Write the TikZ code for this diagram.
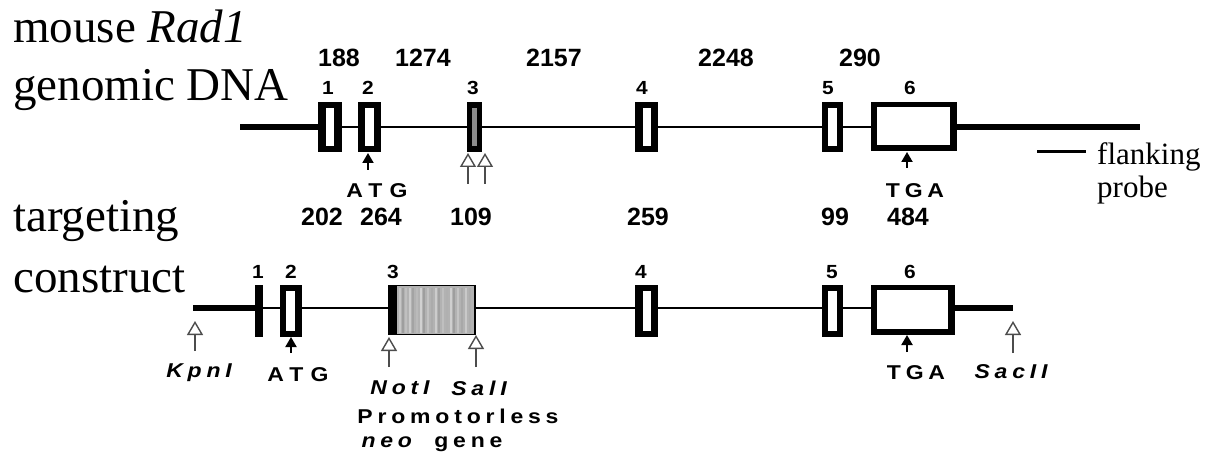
\documentclass[tikz,border=0pt]{standalone}
\usepackage{fontspec}
\setmainfont{Liberation Serif}
\setsansfont{Liberation Sans}
\newfontfamily\lsf[LetterSpace=24,FakeStretch=1.15,UprightFont={* Bold},ItalicFont={* Bold Italic}]{Liberation Sans}
\newfontfamily\lsfw[LetterSpace=36,FakeStretch=1.15,UprightFont={* Bold},ItalicFont={* Bold Italic}]{Liberation Sans}
\newfontfamily\exf[FakeStretch=1.1,UprightFont={* Bold}]{Liberation Sans}
\usetikzlibrary{arrows.meta}
\begin{document}
\begin{tikzpicture}[x=1pt,y=-1pt,
  outer/.style={fill=black, draw=none, inner sep=0pt, outer sep=0pt, anchor=north west},
  innerw/.style={fill=white, draw=none, inner sep=0pt, outer sep=0pt, anchor=north west},
  thickline/.style={line width=6pt},
  thinline/.style={line width=2.5pt},
  bignum/.style={font=\fontsize{25}{25}\selectfont\sffamily\bfseries, inner sep=0pt},
  exnum/.style={font=\fontsize{19}{19}\selectfont\exf, inner sep=0pt},
  lab/.style={font=\fontsize{20}{20}\selectfont\lsf, inner sep=0pt},
  labw/.style={font=\fontsize{20}{20}\selectfont\lsfw, inner sep=0pt},
  labi/.style={font=\fontsize{20}{20}\selectfont\lsf\itshape, inner sep=0pt},
  serifbig/.style={font=\fontsize{47}{47}\selectfont, anchor=base west, inner sep=0pt},
  serifsm/.style={font=\fontsize{31}{31}\selectfont, anchor=base west, inner sep=0pt},
  filledarrow/.style={line width=2pt, -{Triangle[length=10pt,width=11pt]}},
  openarrow/.style={line width=1.4pt, draw=black!70, -{Triangle[open,length=14pt,width=16pt,line width=1.4pt]}}
]
\useasboundingbox (0,0) rectangle (1215,457);
\fill[white] (0,0) rectangle (1215,457);

% ---------- left labels ----------
\node[serifbig] (lab1) at (13,43) {mouse \textit{Rad1}};
\node[serifbig] (lab2) at (13,101) {genomic DNA};
\node[serifbig] (lab3) at (13,231) {targeting};
\node[serifbig] (lab4) at (13,292) {construct};

% ---------- top row: genomic DNA ----------
\coordinate (tL) at (240,127);
\coordinate (tR) at (1140,127);
\coordinate (t1L) at (318,127);
\coordinate (t6R) at (957,127);
\draw[thickline] (tL) -- (t1L);
\draw[thinline] (t1L) -- (t6R);
\draw[thickline] (t6R) -- (tR);

\node[outer, minimum width=24pt, minimum height=50pt] (te1) at (318,102) {};
\node[innerw, minimum width=8pt, minimum height=38pt] (te1i) at (326,108) {};
\node[outer, minimum width=23pt, minimum height=50pt] (te2) at (358,102) {};
\node[innerw, minimum width=9pt, minimum height=38pt] (te2i) at (365,108) {};
\node[outer, minimum width=15pt, minimum height=50pt] (te3) at (467,102) {};
\node[innerw, fill=black!45, minimum width=5pt, minimum height=38pt] (te3i) at (472,108) {};
\node[outer, minimum width=23pt, minimum height=50pt] (te4) at (635,102) {};
\node[innerw, minimum width=8pt, minimum height=38pt] (te4i) at (643,108) {};
\node[outer, minimum width=21pt, minimum height=50pt] (te5) at (822,102) {};
\node[innerw, minimum width=9pt, minimum height=38pt] (te5i) at (828,108) {};
\node[outer, minimum width=86pt, minimum height=49pt] (te6) at (871,102) {};
\node[innerw, minimum width=73pt, minimum height=38pt] (te6i) at (877,107) {};

% exon numbers top
\node[exnum] (tn1) at (328,88) {1};
\node[exnum] (tn2) at (368,88) {2};
\node[exnum] (tn3) at (473,88) {3};
\node[exnum] (tn4) at (642,88) {4};
\node[exnum] (tn5) at (828,88) {5};
\node[exnum] (tn6) at (910,88) {6};

% intron lengths
\node[bignum] (i1) at (339,58) {188};
\node[bignum] (i2) at (423,58) {1274};
\node[bignum] (i3) at (554,58) {2157};
\node[bignum] (i4) at (726,58) {2248};
\node[bignum] (i5) at (860,58) {290};

% arrows top
\coordinate (atgTt) at (368,153);
\coordinate (atgTb) at (368,170);
\draw[filledarrow] (atgTb) -- (atgTt);
\coordinate (tgaTt) at (907,152);
\coordinate (tgaTb) at (907,168);
\draw[filledarrow] (tgaTb) -- (tgaTt);
\coordinate (o1t) at (468,153);
\coordinate (o1b) at (468,184);
\draw[openarrow] (o1b) -- (o1t);
\coordinate (o2t) at (485,153);
\coordinate (o2b) at (485,184);
\draw[openarrow] (o2b) -- (o2t);

\node[labw] (atgT) at (377,191) {ATG};
\node[lab] (tgaT) at (915,191) {TGA};

% flanking probe
\coordinate (fp1) at (1037,152);
\coordinate (fp2) at (1086,152);
\draw[line width=3pt] (fp1) -- (fp2);
\node[serifsm] (fl) at (1097,165) {flanking};
\node[serifsm] (pr) at (1097,197) {probe};

% exon lengths
\node[bignum] (x1) at (322,217) {202};
\node[bignum] (x2) at (381,217) {264};
\node[bignum] (x3) at (471,217) {109};
\node[bignum] (x4) at (648,217) {259};
\node[bignum] (x5) at (835,217) {99};
\node[bignum] (x6) at (908,217) {484};

% ---------- bottom row: targeting construct ----------
\coordinate (bL) at (193,308);
\coordinate (b1L) at (255,308);
\coordinate (b6R) at (955,308);
\coordinate (bR) at (1013,308);
\draw[thickline] (bL) -- (b1L);
\draw[thinline] (b1L) -- (b6R);
\draw[thickline] (b6R) -- (bR);

\node[outer, minimum width=8pt, minimum height=52pt] (be1) at (255,285) {};
\node[outer, minimum width=22pt, minimum height=52pt] (be2) at (280,285) {};
\node[innerw, minimum width=9pt, minimum height=40pt] (be2i) at (286,291) {};
\node[outer, minimum width=8pt, minimum height=50pt] (be3) at (388,285) {};
\node[fill=black!30, draw=black, line width=1.2pt, inner sep=0pt, outer sep=0pt, anchor=north west,
      minimum width=79pt, minimum height=49pt] (neo) at (396,285.5) {};
\foreach \xx/\cc in {400/22,403/38,406/25,410/20,413/36,417/27,421/18,424/38,428/24,432/33,
                     436/20,439/37,443/25,447/31,451/19,454/38,458/23,462/34,466/21,470/32}
  \draw[black!\cc, line width=1.1pt] (\xx,287.5) -- (\xx,332.5);
\draw[line width=1.2pt] (neo.north west) rectangle (neo.south east);
\node[outer, minimum width=23pt, minimum height=52pt] (be4) at (635,285) {};
\node[innerw, minimum width=8pt, minimum height=40pt] (be4i) at (643,291) {};
\node[outer, minimum width=21pt, minimum height=52pt] (be5) at (822,285) {};
\node[innerw, minimum width=9pt, minimum height=40pt] (be5i) at (828,291) {};
\node[outer, minimum width=84pt, minimum height=50pt] (be6) at (871,285) {};
\node[innerw, minimum width=71pt, minimum height=39pt] (be6i) at (877,290) {};

% exon numbers bottom
\node[exnum] (bn1) at (258,272) {1};
\node[exnum] (bn2) at (291,272) {2};
\node[exnum] (bn3) at (393,272) {3};
\node[exnum] (bn4) at (641,272) {4};
\node[exnum] (bn5) at (832,272) {5};
\node[exnum] (bn6) at (910,272) {6};

% arrows bottom
\coordinate (kpnt) at (195,321);
\coordinate (kpnb) at (195,351);
\draw[openarrow] (kpnb) -- (kpnt);
\coordinate (atgBt) at (291,337);
\coordinate (atgBb) at (291,353);
\draw[filledarrow] (atgBb) -- (atgBt);
\coordinate (nott) at (389,337);
\coordinate (notb) at (389,367);
\draw[openarrow] (notb) -- (nott);
\coordinate (salt) at (476,335);
\coordinate (salb) at (476,367);
\draw[openarrow] (salb) -- (salt);
\coordinate (tgaBt) at (907,335);
\coordinate (tgaBb) at (907,352);
\draw[filledarrow] (tgaBb) -- (tgaBt);
\coordinate (sact) at (1013,321);
\coordinate (sacb) at (1013,353);
\draw[openarrow] (sacb) -- (sact);

\node[labi] (kpn) at (199,373) {KpnI};
\node[labw] (atgB) at (298,375) {ATG};
\node[labi] (notl) at (400,388) {NotI};
\node[labi] (sall) at (479,388) {SalI};
\node[lab] (promo) at (458,416) {Promotorless};
\node[lab] (neog) at (432,444) {\itshape neo\upshape\ \ gene};
\node[lab] (tgaB) at (916,373) {TGA};
\node[labi] (sac) at (1011,372) {SacII};
\end{tikzpicture}
\end{document}
